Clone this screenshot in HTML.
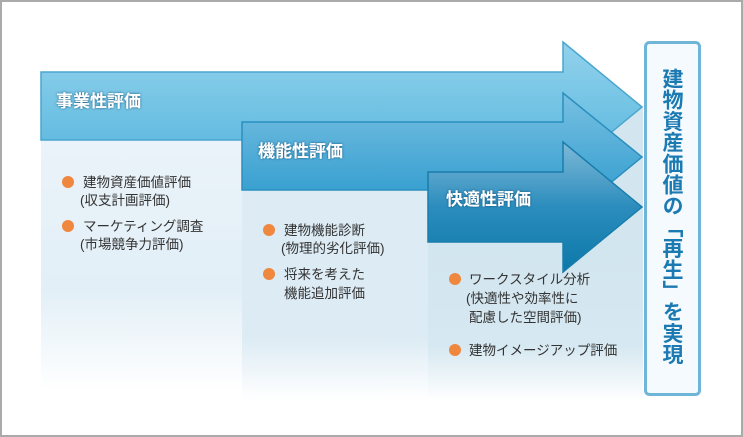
<!DOCTYPE html>
<html><head><meta charset="utf-8"><style>
html,body{margin:0;padding:0;background:#fff}
svg{display:block}
text{font-family:"Liberation Sans","Noto Sans CJK JP",sans-serif}
.v{position:absolute;left:660px;top:68px;width:26px;height:310px;writing-mode:vertical-rl;font-family:"Noto Sans CJK JP",sans-serif;font-size:21px;font-weight:bold;color:#1b7ab2;line-height:26px;letter-spacing:0.2px}
</style></head><body>
<div style="position:relative;width:743px;height:437px">
<svg width="743" height="437" viewBox="0 0 743 437" xmlns="http://www.w3.org/2000/svg">
<defs>
<linearGradient id="p" x1="0" y1="0" x2="0" y2="1">
<stop offset="0" stop-color="#eaf3f9"/><stop offset="0.6" stop-color="#e2eff7"/><stop offset="1" stop-color="#ffffff"/></linearGradient>
<linearGradient id="p2" x1="0" y1="0" x2="0" y2="1">
<stop offset="0" stop-color="#dcebf4"/><stop offset="0.7" stop-color="#dcebf4"/><stop offset="1" stop-color="#ffffff"/></linearGradient>
<linearGradient id="p3" x1="0" y1="0" x2="0" y2="1">
<stop offset="0" stop-color="#d2e6f0"/><stop offset="0.65" stop-color="#d6e8f1"/><stop offset="1" stop-color="#ffffff"/></linearGradient>
<linearGradient id="a1" x1="0" y1="0" x2="0" y2="1">
<stop offset="0" stop-color="#92d2ec"/><stop offset="1" stop-color="#55b5dd"/></linearGradient>
<linearGradient id="a2" x1="0" y1="0" x2="0" y2="1">
<stop offset="0" stop-color="#78c0e2"/><stop offset="1" stop-color="#2596cb"/></linearGradient>
<linearGradient id="a3" x1="0" y1="0" x2="0" y2="1">
<stop offset="0" stop-color="#7fb9d8"/><stop offset="0.5" stop-color="#2b8dbd"/><stop offset="1" stop-color="#0c78a8"/></linearGradient>
<filter id="sh" x="-10%" y="-30%" width="120%" height="160%"><feDropShadow dx="0" dy="0" stdDeviation="1.2" flood-color="#0a4a70" flood-opacity="0.9"/></filter>
</defs>
<rect x="1" y="1" width="741" height="435" fill="#fff" stroke="#aaa" stroke-width="2"/>
<rect x="41" y="140" width="201" height="250" fill="url(#p)"/>
<rect x="242" y="190" width="186" height="210" fill="url(#p2)"/>
<rect x="428" y="242" width="215" height="160" fill="url(#p3)"/>
<polygon points="563,172 643,107 643,242 563,242" fill="#d3e6f0"/>
<polygon points="41,72 563,72 563,42 642,107 563,172 563,140 41,140" fill="url(#a1)" stroke="#4aa5cf" stroke-width="1.5"/>
<polygon points="242,122 563,122 563,93 642,157 563,222 563,190 242,190" fill="url(#a2)" stroke="#2a8fbf" stroke-width="1.5"/>
<polygon points="428,172 563,172 563,142 642,207 563,272 563,242 428,242" fill="url(#a3)" stroke="#1a7dab" stroke-width="1.5"/>
<g font-size="17" font-weight="bold" fill="#fff" filter="url(#sh)">
<text x="56" y="107">事業性評価</text>
<text x="258" y="157">機能性評価</text>
<text x="446" y="205">快適性評価</text>
</g>
<g fill="#f0873f">
<circle cx="68" cy="182" r="6"/><circle cx="68" cy="226" r="6"/>
<circle cx="269" cy="230" r="6"/><circle cx="269" cy="274" r="6"/>
<circle cx="455" cy="279" r="6"/><circle cx="455" cy="350" r="6"/>
</g>
<g font-size="13.5" fill="#333">
<text x="83" y="187">建物資産価値評価</text>
<text x="80" y="205">(収支計画評価)</text>
<text x="83" y="231">マーケティング調査</text>
<text x="80" y="249">(市場競争力評価)</text>
<text x="284" y="235">建物機能診断</text>
<text x="281" y="253">(物理的劣化評価)</text>
<text x="284" y="279">将来を考えた</text>
<text x="284" y="298">機能追加評価</text>
<text x="469" y="284">ワークスタイル分析</text>
<text x="466" y="303">(快適性や効率性に</text>
<text x="469" y="322">配慮した空間評価)</text>
<text x="469" y="355">建物イメージアップ評価</text>
</g>
<rect x="645.5" y="42.5" width="54" height="352" rx="4" fill="#f4fafd" stroke="#6fb5d8" stroke-width="3"/>
</svg>
<div class="v">建物資産価値の「再生」を実現</div>
</div>
</body></html>
